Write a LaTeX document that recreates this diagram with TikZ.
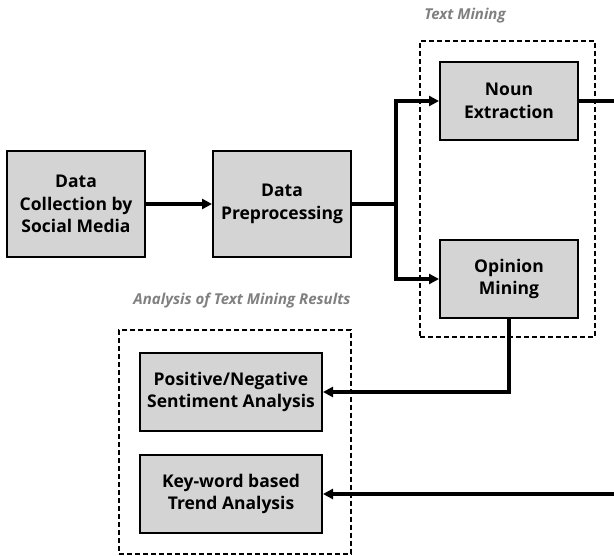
\documentclass[tikz,border=0pt]{standalone}
\usepackage{fontspec}
\setmainfont{Open Sans}
\usetikzlibrary{arrows.meta}
\begin{document}
\begin{tikzpicture}[x=1pt,y=-1pt,
  procbox/.style={draw=black, line width=2pt, fill=black!17, minimum width=138pt, minimum height=106pt,
    align=center, font=\bfseries\fontsize{17.5}{22.5}\selectfont, inner sep=0pt},
  smallbox/.style={procbox, minimum height=78pt},
  widebox/.style={procbox, minimum width=182pt, minimum height=78pt},
  groupbox/.style={draw=black, line width=1.4pt, dash pattern=on 5pt off 3pt},
  grouplabel/.style={text=black!50, font=\bfseries\itshape\fontsize{15}{17}\selectfont},
  conn/.style={line width=3.2pt, -{Triangle[length=10pt,width=10pt]}},
  plain/.style={line width=3.2pt}]
\useasboundingbox (0,0) rectangle (614,556);
\clip (0,0) rectangle (614,556);
\node[procbox] (dc) at (76,204) {Data\\Collection by\\Social Media};
\node[procbox] (dp) at (282,204) {Data\\Preprocessing};
\node[smallbox] (ne) at (509,101) {Noun\\Extraction};
\node[smallbox] (om) at (509,279) {Opinion\\Mining};
\node[widebox] (pn) at (231,392) {Positive/Negative\\Sentiment Analysis};
\node[widebox] (kw) at (231,494) {Key-word based\\Trend Analysis};
\node[groupbox, minimum width=175pt, minimum height=296pt] (tm) at (507.5,189) {};
\node[groupbox, minimum width=232pt, minimum height=224pt] (ar) at (235,442) {};
\node[grouplabel] (tml) at (465,16) {Text Mining};
\node[grouplabel] (arl) at (242,301) {Analysis of Text Mining Results};
\coordinate (split) at (396,204);
\coordinate (farright) at (640,101);
\draw[conn] (dc) -- (dp);
\draw[plain] (dp.east) -- (split);
\draw[conn] (split) |- (ne.west);
\draw[conn] (split) |- (om.west);
\draw[conn] (om.south) |- (pn.east);
\draw[conn] (ne.east) -- (farright) |- (kw.east);
\end{tikzpicture}
\end{document}
